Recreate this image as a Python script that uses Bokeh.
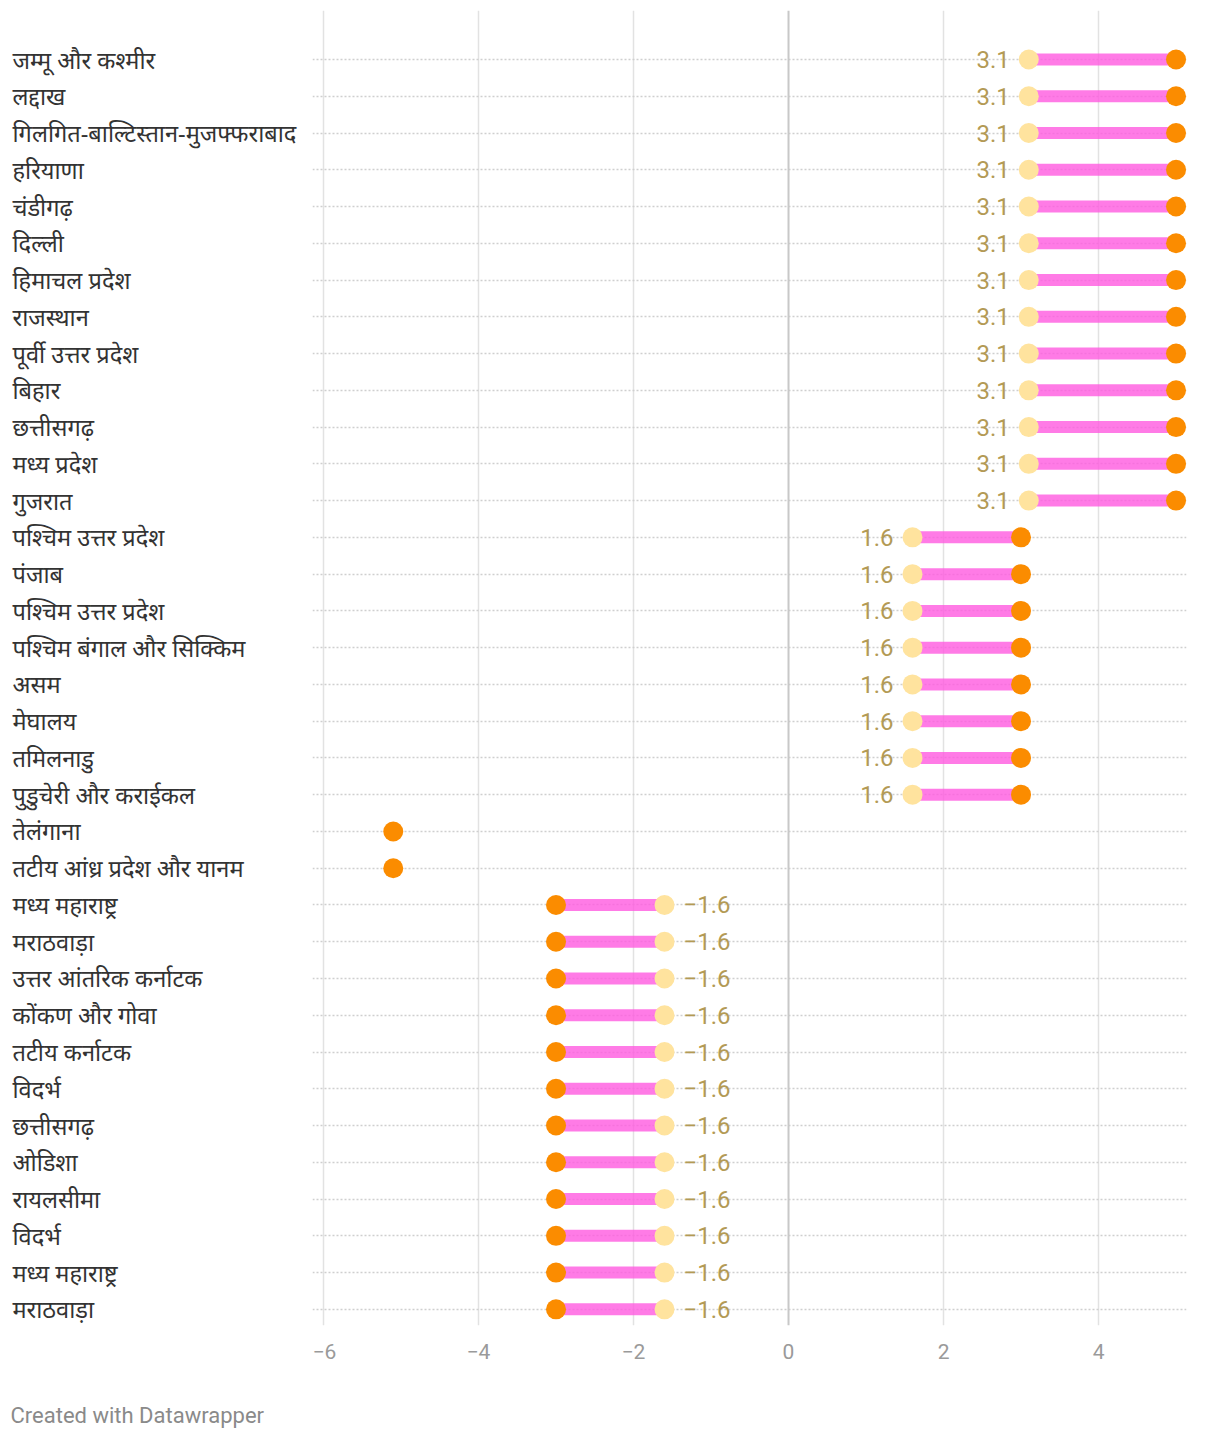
from bokeh.plotting import figure
from bokeh.models import ColumnDataSource, Range1d, FixedTicker, Span
from bokeh.layouts import row, column
from bokeh.embed import file_html
from bokeh.resources import INLINE
from bokeh.core.properties import value

nan = float("nan")

regions = [
    "जम्मू और कश्मीर", "लद्दाख", "गिलगित-बाल्टिस्तान-मुजफ्फराबाद", "हरियाणा",
    "चंडीगढ़", "दिल्ली", "हिमाचल प्रदेश", "राजस्थान", "पूर्वी उत्तर प्रदेश",
    "बिहार", "छत्तीसगढ़", "मध्य प्रदेश", "गुजरात",
    "पश्चिम उत्तर प्रदेश", "पंजाब", "पश्चिम उत्तर प्रदेश", "पश्चिम बंगाल और सिक्किम",
    "असम", "मेघालय", "तमिलनाडु", "पुडुचेरी और कराईकल",
    "तेलंगाना", "तटीय आंध्र प्रदेश और यानम",
    "मध्य महाराष्ट्र", "मराठवाड़ा", "उत्तर आंतरिक कर्नाटक", "कोंकण और गोवा",
    "तटीय कर्नाटक", "विदर्भ", "छत्तीसगढ़", "ओडिशा", "रायलसीमा", "विदर्भ",
    "मध्य महाराष्ट्र", "मराठवाड़ा",
]

# light-yellow dot (labelled value)
start_vals = [
    3.1, 3.1, 3.1, 3.1, 3.1, 3.1, 3.1, 3.1, 3.1, 3.1, 3.1, 3.1, 3.1,
    1.6, 1.6, 1.6, 1.6, 1.6, 1.6, 1.6, 1.6,
    nan, nan,
    -1.6, -1.6, -1.6, -1.6, -1.6, -1.6, -1.6, -1.6, -1.6, -1.6, -1.6, -1.6,
]

# orange dot
end_vals = [
    5.0, 5.0, 5.0, 5.0, 5.0, 5.0, 5.0, 5.0, 5.0, 5.0, 5.0, 5.0, 5.0,
    3.0, 3.0, 3.0, 3.0, 3.0, 3.0, 3.0, 3.0,
    -5.1, -5.1,
    -3.0, -3.0, -3.0, -3.0, -3.0, -3.0, -3.0, -3.0, -3.0, -3.0, -3.0, -3.0,
]

x_ticks = [-6, -4, -2, 0, 2, 4]

rows = list(range(len(regions)))


def fmt(v):
    return ("\u2212" if v < 0 else "") + f"{abs(v):.1f}"


src = ColumnDataSource(dict(y=rows, label=regions, start=start_vals, end=end_vals))

pos = [i for i in rows if start_vals[i] == start_vals[i] and start_vals[i] < end_vals[i]]
neg = [i for i in rows if start_vals[i] == start_vals[i] and start_vals[i] > end_vals[i]]
src_pos = ColumnDataSource(dict(y=pos, x=[start_vals[i] for i in pos], t=[fmt(start_vals[i]) for i in pos]))
src_neg = ColumnDataSource(dict(y=neg, x=[start_vals[i] for i in neg], t=[fmt(start_vals[i]) for i in neg]))

H = 1385
yr = Range1d(34.44, -1.333)

# ---- label column
lab = figure(width=312, height=H, x_range=Range1d(0, 1), y_range=yr,
             output_backend="svg", toolbar_location=None,
             min_border_left=0, min_border_right=0, min_border_top=10, min_border_bottom=60,
             x_axis_location=None, y_axis_location=None)
lab.outline_line_color = None
lab.grid.visible = False
lab.text(x=0, y="y", text="label", source=src, x_offset=12,
         text_align="left", text_baseline="middle",
         text_font=value("Noto Sans"), text_font_size="23.6px", text_color="#333333")

# ---- main plot
p = figure(width=900, height=H, x_range=Range1d(-6.142, 5.135), y_range=yr,
           output_backend="svg", toolbar_location=None,
           min_border_left=0, min_border_right=26, min_border_top=10, min_border_bottom=60,
           y_axis_location=None)
p.outline_line_color = None

p.xgrid.ticker = FixedTicker(ticks=[t for t in x_ticks if t != 0])
p.xgrid.grid_line_color = "#e2e2e2"
p.xgrid.grid_line_width = 1.5
p.ygrid.ticker = FixedTicker(ticks=rows)
p.ygrid.grid_line_color = "#cfcfcf"
p.ygrid.grid_line_width = 1.5
p.ygrid.grid_line_dash = "2 2"

zero = Span(location=0, dimension="height", line_color="#c8c8c8", line_width=2, level="underlay")
p.add_layout(zero)

p.xaxis.ticker = FixedTicker(ticks=x_ticks)
p.xaxis.major_label_overrides = {t: fmt(t).replace(".0", "") for t in x_ticks}
p.xaxis.axis_line_color = None
p.xaxis.major_tick_line_color = None
p.xaxis.minor_tick_line_color = None
p.xaxis.major_label_standoff = 12
p.xaxis.major_label_text_font = "Roboto"
p.xaxis.major_label_text_font_size = "21px"
p.xaxis.major_label_text_color = "#9a9a9a"

p.segment(x0="start", x1="end", y0="y", y1="y", source=src,
          line_color="#ff5ae0", line_alpha=0.8, line_width=12, line_cap="butt")
p.scatter(x="start", y="y", source=src, size=20, marker="circle",
          fill_color="#ffe39e", line_color=None)
p.scatter(x="end", y="y", source=src, size=20, marker="circle",
          fill_color="#fb8c00", line_color=None)

p.text(x="x", y="y", text="t", source=src_pos, x_offset=-19,
       text_align="right", text_baseline="middle",
       text_font=value("Roboto"), text_font_size="24px", text_color="#b39a55")
p.text(x="x", y="y", text="t", source=src_neg, x_offset=19,
       text_align="left", text_baseline="middle",
       text_font=value("Roboto"), text_font_size="24px", text_color="#b39a55")

# ---- credit line
cr = figure(width=1212, height=45, x_range=Range1d(0, 1), y_range=Range1d(0, 1),
            output_backend="svg", toolbar_location=None, min_border=0,
            x_axis_location=None, y_axis_location=None)
cr.outline_line_color = None
cr.grid.visible = False
cr.text(x=[0], y=[0.5], text=["Created with Datawrapper"], x_offset=10, y_offset=7,
        text_align="left", text_baseline="middle",
        text_font=value("Roboto"), text_font_size="22px", text_color="#8a8a8a")

layout = column(row(lab, p), cr)
open("out.html", "w").write(file_html(layout, INLINE))
